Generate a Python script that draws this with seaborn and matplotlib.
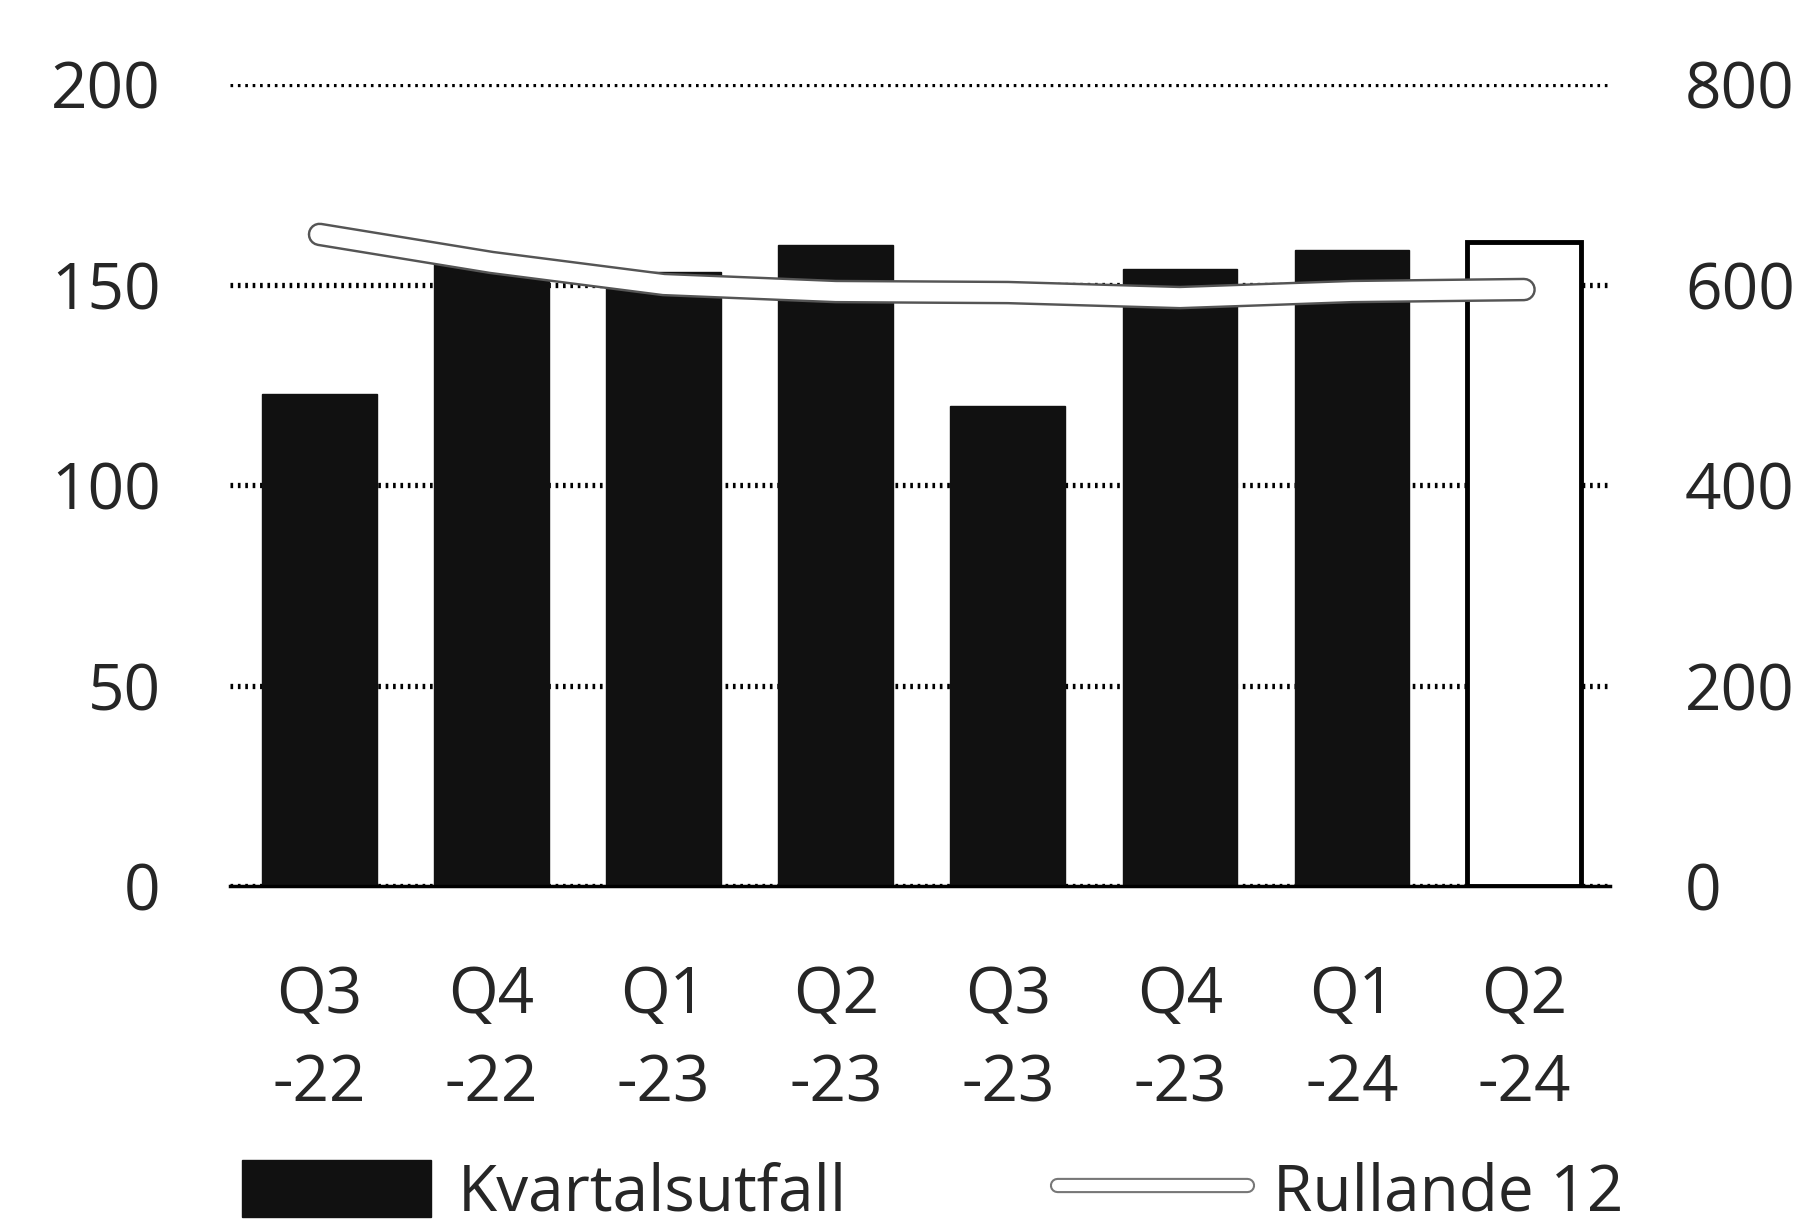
import numpy as np
import pandas as pd
import seaborn as sns
import matplotlib.pyplot as plt
import matplotlib.patheffects as pe
from matplotlib.patches import Patch
from matplotlib.lines import Line2D

quarters = ["Q3\n-22", "Q4\n-22", "Q1\n-23", "Q2\n-23", "Q3\n-23", "Q4\n-23", "Q1\n-24", "Q2\n-24"]
kvartal = [122.6, 155.6, 153.2, 159.9, 119.8, 153.9, 158.7, 160.5]
rullande = [650, 622, 600, 593, 592, 587, 593, 595]
left_ticks = [0, 50, 100, 150, 200]
right_ticks = [0, 200, 400, 600, 800]

sns.set_style("white")
plt.rcParams["font.family"] = ["Open Sans", "DejaVu Sans"]

df = pd.DataFrame({"kvartal": quarters, "varde": kvartal})
bar_colors = ["#111111"] * (len(quarters) - 1) + ["white"]

fig = plt.figure(figsize=(18.03, 12.23), dpi=100)
ax = fig.add_axes([0.1276, 0.2755, 0.7654, 0.6558])

sns.barplot(data=df, x="kvartal", y="varde", hue="kvartal", palette=bar_colors,
            legend=False, width=0.667, ax=ax, saturation=1)
for i, p in enumerate(ax.patches):
    if i == len(quarters) - 1:
        p.set_edgecolor("black")
        p.set_linewidth(3.5)
    else:
        p.set_edgecolor("#111111")
    p.set_zorder(3)

ax.set_xlim(-0.52, 7.5)
ax.set_ylim(0, 200)
ax.set_yticks(left_ticks)
ax.set_xlabel("")
ax.set_ylabel("")
ax.yaxis.grid(True, linestyle=(0, (0.5, 0.9)), color="black", lw=3.8)
ax.set_axisbelow(True)
for s in ["top", "left", "right"]:
    ax.spines[s].set_visible(False)
ax.spines["bottom"].set_color("black")
ax.spines["bottom"].set_linewidth(2.5)
ax.spines["bottom"].set_zorder(4)
ax.tick_params(axis="y", length=0, pad=50, labelsize=46)
ax.tick_params(axis="x", length=0, pad=56, labelsize=46)
plt.setp(ax.get_xticklabels(), linespacing=1.5)

# rullande 12 on the right axis, white line with a thin dark rim
ax2 = ax.twinx()
line_fx = [pe.Stroke(linewidth=17, foreground="#555555"), pe.Normal()]
sns.lineplot(x=np.arange(len(quarters)), y=rullande, ax=ax2, color="white", lw=13.5,
             solid_capstyle="round", path_effects=line_fx, zorder=5)
ax2.set_ylim(0, 800)
ax2.set_yticks(right_ticks)
ax2.set_ylabel("")
ax2.grid(False)
for s in ["top", "left", "right", "bottom"]:
    ax2.spines[s].set_visible(False)
ax2.tick_params(axis="y", length=0, pad=54, labelsize=46)

handles = [
    Patch(facecolor="#111111", edgecolor="#111111"),
    Line2D([], [], color="white", lw=8, path_effects=[pe.Stroke(linewidth=11, foreground="#777777"), pe.Normal()]),
]
fig.legend(handles, ["Kvartalsutfall", "Rullande 12"], loc="center left",
           bbox_to_anchor=(0.134, 0.025), ncol=2, frameon=False, fontsize=46,
           handlelength=2.97, handleheight=1.0, columnspacing=3.28, handletextpad=0.42,
           borderpad=0, borderaxespad=0)

fig.savefig("out.png", dpi=100)
